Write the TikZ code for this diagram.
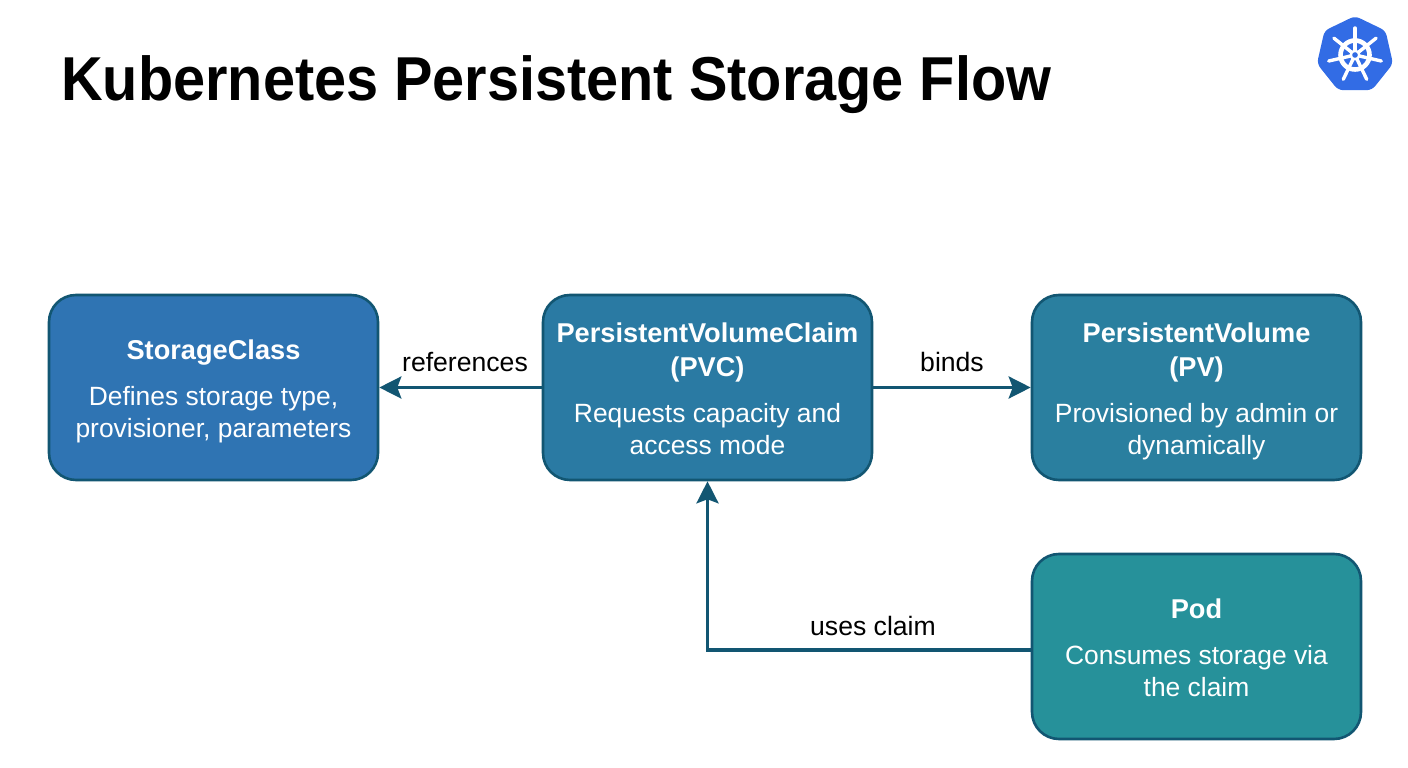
\documentclass[tikz,border=0pt]{standalone}
\usepackage{fontspec}
\setmainfont{Liberation Sans}
\newfontfamily\headingfont[FakeStretch=0.93]{Liberation Sans}
\usetikzlibrary{arrows.meta,shapes.geometric}
\definecolor{classblue}{HTML}{2F74B3}
\definecolor{claimblue}{HTML}{2A7AA3}
\definecolor{volumeblue}{HTML}{2A7F9F}
\definecolor{podteal}{HTML}{26919A}
\definecolor{edgeblue}{HTML}{125672}
\definecolor{logoblue}{HTML}{326CE5}
\newcommand{\cardhead}[1]{\rule{0pt}{31pt}{\fontsize{27.2}{32}\selectfont\bfseries #1}}
\tikzset{
	card/.style={draw=edgeblue, line width=2.6pt, rounded corners=27pt, minimum width=329pt, minimum height=185pt, inner sep=0pt, align=center, text=white, font=\fontsize{26.4}{32}\selectfont},
	flow/.style={-{Stealth[length=22pt,width=22pt,inset=4pt]}, draw=edgeblue, line width=3.4pt},
	flowlabel/.style={inner sep=0pt, font=\fontsize{26.6}{30}\selectfont},
}
\begin{document}
\begin{tikzpicture}[x=1pt,y=1pt]
	\useasboundingbox (0,0) rectangle (1408,768);
	% title
	\node[anchor=base west, inner sep=0pt, font=\fontsize{62}{70}\headingfont\bfseries] (heading) at (61,667) {Kubernetes Persistent Storage Flow};
	% logo
	\node[regular polygon, regular polygon sides=7, minimum size=78pt, inner sep=0pt, fill=logoblue, rounded corners=5pt] (logo) at (1355,713) {};
	\draw[white, line width=4.6pt] (logo.center) circle (14.5pt);
	\foreach \a in {90,141.4,192.9,244.3,295.7,347.1,38.6}
		\draw[white, line width=3.4pt, line cap=round] (logo.center) -- ++(\a:27pt);
	\fill[white] (logo.center) circle (5.5pt);
	\fill[logoblue] (logo.center) circle (2.8pt);
	% boxes
	\node[card, fill=classblue] (sc) at (213.5,380.5) {\cardhead{StorageClass}\\[14pt]Defines storage type,\\provisioner, parameters\strut};
	\node[card, fill=claimblue] (pvc) at (707.5,380.5) {\cardhead{PersistentVolumeClaim}\\[2pt]\cardhead{(PVC)}\\[14pt]Requests capacity and\\access mode\strut};
	\node[card, fill=volumeblue] (pv) at (1196.5,380.5) {\cardhead{PersistentVolume}\\[2pt]\cardhead{(PV)}\\[14pt]Provisioned by admin or\\dynamically\strut};
	\node[card, fill=podteal] (pod) at (1196.5,121.5) {\cardhead{Pod}\\[14pt]Consumes storage via\\the claim\strut};
	% arrows
	\draw[flow] (pvc.west) -- (sc.east);
	\draw[flow] (pvc.east) -- (pv.west);
	\draw[flow] ([yshift=-3.5pt]pod.west) -| (pvc.south);
	% labels
	\node[flowlabel] (references) at (465,406) {references};
	\node[flowlabel] (binds) at (952,406) {binds};
	\node[flowlabel] (usesclaim) at (873,142) {uses claim};
\end{tikzpicture}
\end{document}
